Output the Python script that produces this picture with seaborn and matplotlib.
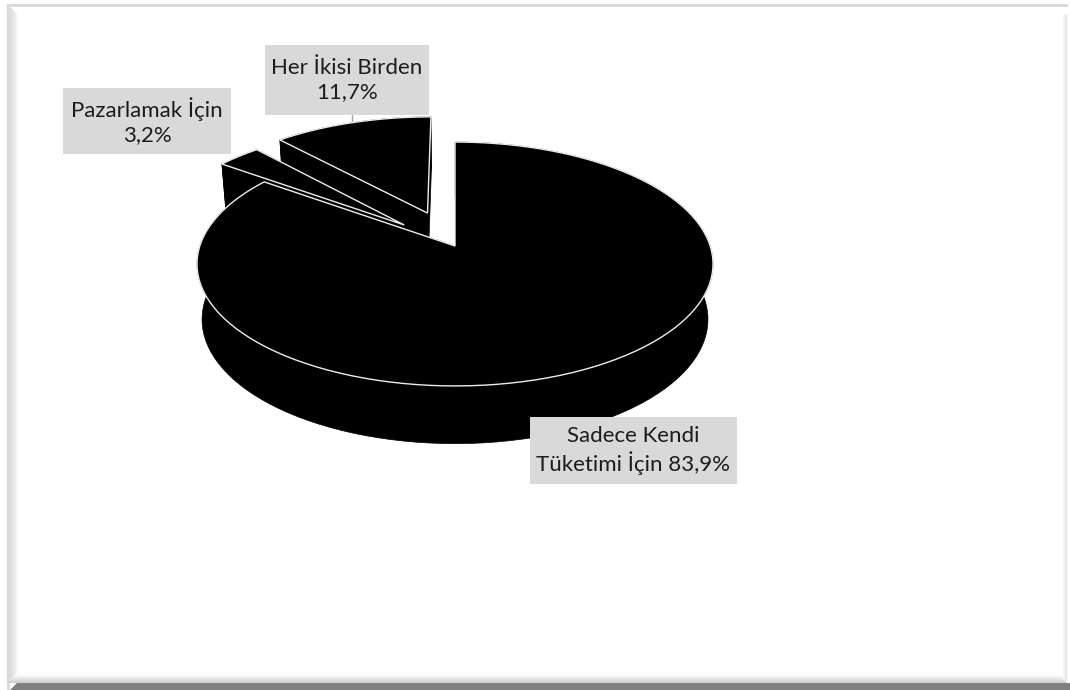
import numpy as np
import pandas as pd
import matplotlib
matplotlib.use("Agg")
import matplotlib.pyplot as plt
from matplotlib.patches import Polygon, Rectangle
import seaborn as sns

# Survey shares shown on the pie
categories = ["Sadece Kendi\nTüketimi İçin 83,9%", "Pazarlamak İçin\n3,2%", "Her İkisi Birden\n11,7%"]
shares = [83.9, 3.2, 11.7]
explode = [0.0, 0.273, 0.309]

# Label boxes: left, top, right, bottom in figure pixels
label_boxes = [(530, 417, 737, 484), (63, 88, 231, 154), (265, 45, 429, 115)]

# Projection of the tilted disc
KEEP = 0.1475
TOP = dict(x0=455, y0=246, dx=255.2, dy=119.3)
BOTTOM = dict(x0=455, y0=301, dx=250.2, dy=121.6)

W, H = 1070, 690
sns.set_theme(style="white")
plt.rcParams["font.family"] = ["Lato", "DejaVu Sans"]
face, rim, box_grey, ink = sns.color_palette(["#000000", "#ececec", "#d9d9d9", "#1c1c1c"])

df = pd.DataFrame({"category": categories, "share": shares, "explode": explode})
df["sweep"] = df["share"] / df["share"].sum() * 2 * np.pi
df["end"] = df["sweep"].cumsum()
df["start"] = df["end"] - df["sweep"]

fig = plt.figure(figsize=(W / 100, H / 100), dpi=100, facecolor="white")
ax = fig.add_axes([0, 0, 1, 1])
ax.set_xlim(0, W)
ax.set_ylim(H, 0)
ax.axis("off")


def project(px, py, plane):
    den = 1 + KEEP * py
    return plane["x0"] + plane["dx"] * px / den, plane["y0"] - plane["dy"] * py / den


def wedge_outline(row):
    mid = (row.start + row.end) / 2
    ox, oy = row.explode * np.sin(mid), row.explode * np.cos(mid)
    t = np.linspace(row.start, row.end, 120)
    return ox, oy, ox + np.sin(t), oy + np.cos(t)


# Far slices first, the large slice last so that it covers them
for row in df.iloc[::-1].itertuples():
    ox, oy, px, py = wedge_outline(row)
    xt, yt = project(px, py, TOP)
    xb, yb = project(px, py, BOTTOM)
    axt, ayt = project(ox, oy, TOP)
    axb, ayb = project(ox, oy, BOTTOM)
    # outer wall
    wall = np.column_stack([np.r_[xt, xb[::-1]], np.r_[yt, yb[::-1]]])
    ax.add_patch(Polygon(wall, closed=True, fc=face, ec=face, lw=0.5, zorder=2))
    # cut faces
    for i in (0, -1):
        quad = [(axt, ayt), (xt[i], yt[i]), (xb[i], yb[i]), (axb, ayb)]
        ax.add_patch(Polygon(quad, closed=True, fc=face, ec=face, lw=0.5, zorder=2))
    # top surface with its pale rim
    top = np.column_stack([np.r_[axt, xt], np.r_[ayt, yt]])
    ax.add_patch(Polygon(top, closed=True, fc=face, ec=rim, lw=1.0, zorder=2, joinstyle="miter"))

# Leader from the upper label to its slice
ax.plot([352, 352], [115, 123], color="#a6a6a6", lw=1, zorder=1)

for (l, t, r, b), text in zip(label_boxes, df["category"]):
    ax.add_patch(Rectangle((l, t), r - l, b - t, fc=box_grey, ec="none", zorder=3))
    ax.text((l + r) / 2, (t + b) / 2, text, ha="center", va="center", fontsize=16,
            color=ink, linespacing=1.3, zorder=4)

# Bevelled picture frame, built up from one-pixel rings
left_shades = ["#d8d8d8", "#dadada", "#dcdcdc", "#dedede", "#e0e0e0", "#e3e3e3",
               "#e6e6e6", "#eaeaea", "#eeeeee", "#f4f4f4"]
bottom_shades = ["#d0d0d0", "#d6d6d6", "#dcdcdc", "#e2e2e2", "#e8e8e8", "#eeeeee",
                 "#f4f4f4", "#f9f9f9"]
right_shades = ["#e4e4e4", "#ebebeb", "#f1f1f1", "#f7f7f7"]
fl, ft, fr, fb = 7, 4, 1067, 683
for i, col in enumerate(left_shades):
    ax.add_patch(Polygon([(fl + i, ft + i), (fl + i + 1, ft + i + 1), (fl + i + 1, fb - i - 1), (fl + i, fb - i)],
                         closed=True, fc=col, ec=col, lw=0.2, zorder=5))
for i, col in enumerate(bottom_shades):
    ax.add_patch(Polygon([(fl + i, fb - i), (fr - i, fb - i), (fr - i - 1, fb - i - 1), (fl + i + 1, fb - i - 1)],
                         closed=True, fc=col, ec=col, lw=0.2, zorder=5))
for i, col in enumerate(right_shades):
    ax.add_patch(Polygon([(fr - i, ft + 10), (fr - i, fb - i), (fr - i - 1, fb - i - 1), (fr - i - 1, ft + 12)],
                         closed=True, fc=col, ec=col, lw=0.2, zorder=5))
ax.add_patch(Polygon([(fl, ft), (fr + 1, ft), (fr + 1, ft + 3), (fl + 3, ft + 3)],
                     closed=True, fc="#dadada", ec="none", zorder=5))
ax.add_patch(Polygon([(fl, H), (fl, fb), (fl + 3, fb), (fl + 3, H)], closed=True, fc="#dcdcdc", ec="none", zorder=5))
ax.add_patch(Polygon([(fl + 3, H), (fl + 10, fb), (W, fb), (W, H)], closed=True, fc="#808080", ec="none", zorder=5))

fig.savefig("out.png", dpi=100, facecolor="white")
